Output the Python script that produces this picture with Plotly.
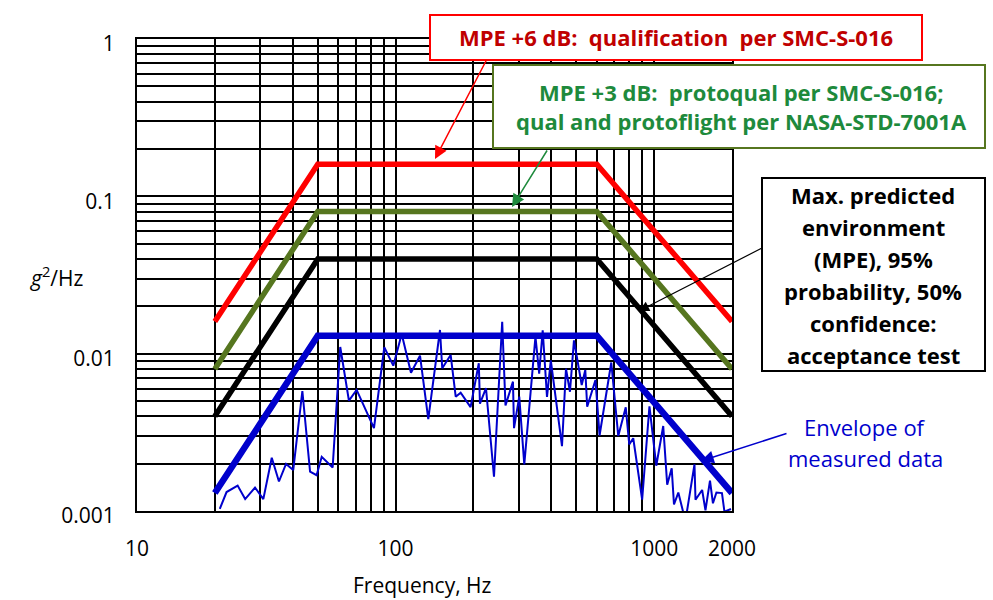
import plotly.graph_objects as go

# ---- data -------------------------------------------------------------
freq_spec = [20, 50, 600, 2000]
mpe_level = [0.004, 0.04, 0.04, 0.004]          # max. predicted environment
plus3_level = [0.008, 0.08, 0.08, 0.008]        # MPE +3 dB
plus6_level = [0.016, 0.16, 0.16, 0.016]        # MPE +6 dB
envelope_level = [0.0013, 0.013, 0.013, 0.0013] # envelope of measured data

meas_freq = [20.9, 22.2, 24.5, 26.2, 28.6, 30.8, 33.2, 35.4, 37.7, 40.2,
             43.6, 46.7, 49.5, 51.8, 57.1, 61.1, 66.0, 70.7, 82.5, 90.4,
             98.0, 105.6, 114.7, 124.3, 133.8, 148.5, 151.5, 163.3, 170.8, 178.5,
             195.0, 209.8, 212.0, 223.7, 240.2, 258.4, 266.1, 284.4, 287.1, 300.8,
             314.6, 347.5, 359.2, 370.6, 385.1, 398.4, 440.1, 456.0, 472.5, 489.6,
             524.6, 541.6, 550.8, 592.9, 615.0, 682.6, 726.4, 776.5, 801.0, 830.1,
             898.5, 958.9, 1019, 1084, 1123, 1169, 1193, 1240, 1304, 1336,
             1432, 1445, 1533, 1579, 1644, 1688, 1741, 1829, 1870, 1929, 1982]
meas_psd = [0.00103, 0.00132, 0.00145, 0.00119, 0.00141, 0.00119, 0.00218, 0.00154, 0.00199, 0.00182,
            0.00579, 0.00178, 0.00169, 0.00221, 0.00189, 0.01103, 0.00503, 0.00588, 0.00336, 0.01098,
            0.00839, 0.01334, 0.00757, 0.00971, 0.00383, 0.01414, 0.00808, 0.00981, 0.00533, 0.00565,
            0.00457, 0.00869, 0.00481, 0.00603, 0.00165, 0.01597, 0.00469, 0.00664, 0.00336, 0.00533,
            0.00198, 0.01282, 0.00746, 0.01408, 0.00531, 0.00908, 0.00258, 0.00802, 0.00573, 0.01216,
            0.00632, 0.00788, 0.0046, 0.00681, 0.00302, 0.00879, 0.003, 0.00456, 0.00265, 0.0029,
            0.00118, 0.00463, 0.00194, 0.00347, 0.00147, 0.00187, 0.0011, 0.00131, 0.00094, 0.00097,
            0.00198, 0.00118, 0.00136, 0.00101, 0.00156, 0.00112, 0.00131, 0.0013, 0.00099, 0.00101, 0.00103]

x_tickvals = [10, 20, 30, 40, 50, 60, 70, 80, 90,
              100, 200, 300, 400, 500, 600, 700, 800, 900, 1000, 2000]
x_ticktext = ["10", "", "", "", "", "", "", "", "",
              "100", "", "", "", "", "", "", "", "", "1000", "2000"]
y_tickvals = [0.001, 0.002, 0.003, 0.004, 0.005, 0.006, 0.007, 0.008, 0.009,
              0.01, 0.02, 0.03, 0.04, 0.05, 0.06, 0.07, 0.08, 0.09,
              0.1, 0.2, 0.3, 0.4, 0.5, 0.6, 0.7, 0.8, 0.9, 1]
y_ticktext = ["0.001"] + [""] * 8 + ["0.01"] + [""] * 8 + ["0.1"] + [""] * 8 + ["1"]

# ---- layout geometry (pixels) ----------------------------------------
W, H = 993, 600
L, R, T, B = 137, 732, 39, 511   # plot-area edges


def px(x):
    return (x - L) / (R - L)


def py(y):
    return (B - y) / (B - T)


FONT = "Open Sans"
BLUE = "#0000cc"
RED = "#ff0000"
OLIVE = "#56761f"
GREEN_TXT = "#1e8a3c"
DARKRED = "#c00000"

fig = go.Figure()
fig.add_trace(go.Scatter(x=meas_freq, y=meas_psd, mode="lines",
                         line=dict(color=BLUE, width=2), name="Measured"))
fig.add_trace(go.Scatter(x=freq_spec, y=envelope_level, mode="lines",
                         line=dict(color=BLUE, width=6.5), name="Envelope"))
fig.add_trace(go.Scatter(x=freq_spec, y=mpe_level, mode="lines",
                         line=dict(color="#000000", width=5.5), name="MPE"))
fig.add_trace(go.Scatter(x=freq_spec, y=plus3_level, mode="lines",
                         line=dict(color=OLIVE, width=5.5), name="MPE +3 dB"))
fig.add_trace(go.Scatter(x=freq_spec, y=plus6_level, mode="lines",
                         line=dict(color=RED, width=5.5), name="MPE +6 dB"))

shapes = []
annotations = []


def box(x0, y0, x1, y1, color):
    shapes.append(dict(type="rect", xref="paper", yref="paper",
                       x0=px(x0), x1=px(x1), y0=py(y0), y1=py(y1),
                       line=dict(color=color, width=2), fillcolor="white",
                       layer="above"))


def text_lines(lines, xc, ys, color, size, bold=True):
    for t, y in zip(lines, ys):
        annotations.append(dict(
            text=f"<b>{t}</b>" if bold else t, xref="paper", yref="paper",
            x=px(xc), y=py(y), xanchor="center", yanchor="middle",
            showarrow=False, font=dict(family=FONT, size=size, color=color)))


def arrow(tip, tail, color, width=1.5):
    annotations.append(dict(
        text="", xref="paper", yref="paper", x=px(tip[0]), y=py(tip[1]),
        ax=tail[0] - tip[0], ay=tail[1] - tip[1], axref="pixel", ayref="pixel",
        showarrow=True, arrowhead=2, arrowsize=1.7, arrowwidth=width,
        arrowcolor=color))


# callout boxes
box(430, 15, 922, 60, RED)
text_lines(["MPE +6 dB:  qualification  per SMC-S-016"], 676, [37], DARKRED, 22)

box(493, 65, 985, 148, OLIVE)
text_lines(["MPE +3 dB:  protoqual per SMC-S-016;",
            "qual and protoflight per NASA-STD-7001A"], 741, [92, 121], GREEN_TXT, 22)

box(762, 178, 985, 371, "#000000")
text_lines(["Max. predicted", "environment", "(MPE), 95%",
            "probability, 50%", "confidence:", "acceptance test"],
           873, [195, 227, 259, 291, 323, 355], "#000000", 22)

text_lines(["Envelope of", "measured data"], 865, [427, 458], BLUE, 22, bold=False)

# leader arrows
arrow((435, 159), (487, 59), RED)
arrow((512, 207), (548, 149), GREEN_TXT)
arrow((639, 311), (764, 247), "#000000", 1.2)
arrow((701, 461), (788, 433), BLUE)

# axis titles
annotations.append(dict(text="<i>g</i><sup>2</sup>/Hz", xref="paper", yref="paper",
                        x=px(56), y=py(276), xanchor="center", yanchor="middle",
                        showarrow=False, font=dict(family=FONT, size=21, color="black")))
annotations.append(dict(text="Frequency, Hz", xref="paper", yref="paper",
                        x=px(422), y=py(585), xanchor="center", yanchor="middle",
                        showarrow=False, font=dict(family=FONT, size=21, color="black")))

axis_common = dict(
    showgrid=True, gridcolor="black", gridwidth=2,
    showline=True, linecolor="black", linewidth=2, mirror=True,
    zeroline=False, ticks="outside", tickcolor="rgba(0,0,0,0)",
    tickfont=dict(family=FONT, size=21, color="black"),
    tickmode="array",
)

fig.update_layout(
    width=W, height=H,
    margin=dict(l=L, r=W - R, t=T, b=H - B),
    paper_bgcolor="white", plot_bgcolor="white",
    showlegend=False,
    xaxis=dict(type="log", range=[1, 3.30103], tickvals=x_tickvals,
               ticktext=x_ticktext, ticklen=18, **axis_common),
    yaxis=dict(type="log", range=[-3, 0], tickvals=y_tickvals,
               ticktext=y_ticktext, ticklen=16, ticklabelshift=5, **axis_common),
    shapes=shapes,
    annotations=annotations,
)

fig.write_html("out.html")
